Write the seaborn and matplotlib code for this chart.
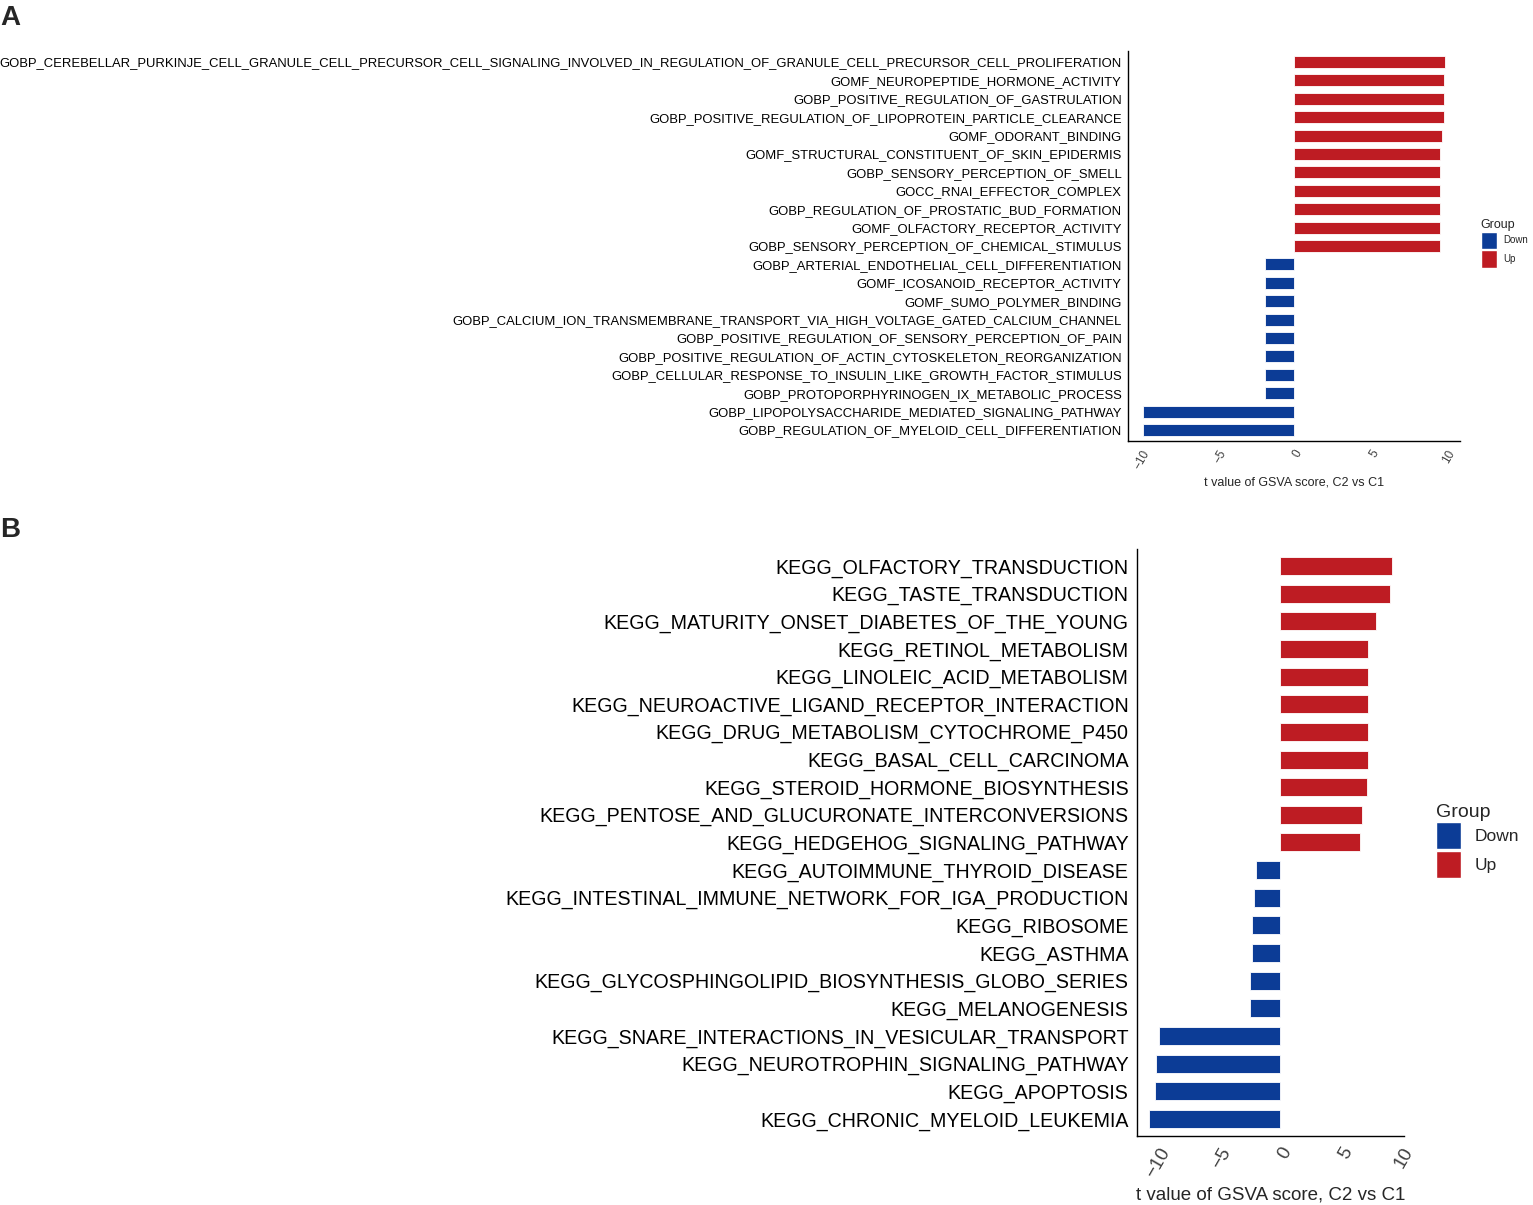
import seaborn as sns
import pandas as pd
import matplotlib.pyplot as plt
from matplotlib.patches import Patch

# panel A: GO terms (top to bottom)
go_terms = [
    'GOBP_CEREBELLAR_PURKINJE_CELL_GRANULE_CELL_PRECURSOR_CELL_SIGNALING_INVOLVED_IN_REGULATION_OF_GRANULE_CELL_PRECURSOR_CELL_PROLIFERATION',
    'GOMF_NEUROPEPTIDE_HORMONE_ACTIVITY',
    'GOBP_POSITIVE_REGULATION_OF_GASTRULATION',
    'GOBP_POSITIVE_REGULATION_OF_LIPOPROTEIN_PARTICLE_CLEARANCE',
    'GOMF_ODORANT_BINDING',
    'GOMF_STRUCTURAL_CONSTITUENT_OF_SKIN_EPIDERMIS',
    'GOBP_SENSORY_PERCEPTION_OF_SMELL',
    'GOCC_RNAI_EFFECTOR_COMPLEX',
    'GOBP_REGULATION_OF_PROSTATIC_BUD_FORMATION',
    'GOMF_OLFACTORY_RECEPTOR_ACTIVITY',
    'GOBP_SENSORY_PERCEPTION_OF_CHEMICAL_STIMULUS',
    'GOBP_ARTERIAL_ENDOTHELIAL_CELL_DIFFERENTIATION',
    'GOMF_ICOSANOID_RECEPTOR_ACTIVITY',
    'GOMF_SUMO_POLYMER_BINDING',
    'GOBP_CALCIUM_ION_TRANSMEMBRANE_TRANSPORT_VIA_HIGH_VOLTAGE_GATED_CALCIUM_CHANNEL',
    'GOBP_POSITIVE_REGULATION_OF_SENSORY_PERCEPTION_OF_PAIN',
    'GOBP_POSITIVE_REGULATION_OF_ACTIN_CYTOSKELETON_REORGANIZATION',
    'GOBP_CELLULAR_RESPONSE_TO_INSULIN_LIKE_GROWTH_FACTOR_STIMULUS',
    'GOBP_PROTOPORPHYRINOGEN_IX_METABOLIC_PROCESS',
    'GOBP_LIPOPOLYSACCHARIDE_MEDIATED_SIGNALING_PATHWAY',
    'GOBP_REGULATION_OF_MYELOID_CELL_DIFFERENTIATION',
]
go_t = [9.85, 9.80, 9.78, 9.77, 9.65, 9.55, 9.54, 9.54, 9.53, 9.52, 9.52,
        -1.93, -1.93, -1.93, -1.94, -1.94, -1.94, -1.94, -1.94, -9.91, -9.91]

# panel B: KEGG pathways (top to bottom)
kegg_terms = [
    'KEGG_OLFACTORY_TRANSDUCTION',
    'KEGG_TASTE_TRANSDUCTION',
    'KEGG_MATURITY_ONSET_DIABETES_OF_THE_YOUNG',
    'KEGG_RETINOL_METABOLISM',
    'KEGG_LINOLEIC_ACID_METABOLISM',
    'KEGG_NEUROACTIVE_LIGAND_RECEPTOR_INTERACTION',
    'KEGG_DRUG_METABOLISM_CYTOCHROME_P450',
    'KEGG_BASAL_CELL_CARCINOMA',
    'KEGG_STEROID_HORMONE_BIOSYNTHESIS',
    'KEGG_PENTOSE_AND_GLUCURONATE_INTERCONVERSIONS',
    'KEGG_HEDGEHOG_SIGNALING_PATHWAY',
    'KEGG_AUTOIMMUNE_THYROID_DISEASE',
    'KEGG_INTESTINAL_IMMUNE_NETWORK_FOR_IGA_PRODUCTION',
    'KEGG_RIBOSOME',
    'KEGG_ASTHMA',
    'KEGG_GLYCOSPHINGOLIPID_BIOSYNTHESIS_GLOBO_SERIES',
    'KEGG_MELANOGENESIS',
    'KEGG_SNARE_INTERACTIONS_IN_VESICULAR_TRANSPORT',
    'KEGG_NEUROTROPHIN_SIGNALING_PATHWAY',
    'KEGG_APOPTOSIS',
    'KEGG_CHRONIC_MYELOID_LEUKEMIA',
]
kegg_t = [9.18, 8.98, 7.86, 7.25, 7.25, 7.21, 7.20, 7.20, 7.09, 6.68, 6.57,
          -2.0, -2.2, -2.31, -2.36, -2.5, -2.5, -10.03, -10.25, -10.33, -10.8]

group_colors = {'Down': '#0C3C96', 'Up': '#BE1C23'}
group_order = ['Down', 'Up']


def make_df(terms, tvals):
    df = pd.DataFrame({'term': terms, 't': tvals})
    df['Group'] = ['Up' if v > 0 else 'Down' for v in tvals]
    return df


def draw_panel(ax, df, fs_y, fs_x, fs_lab, tick_len):
    sns.barplot(data=df, x='t', y='term', hue='Group', hue_order=group_order,
                palette=group_colors, order=list(df['term']), dodge=False,
                width=0.65, orient='h', edgecolor='white', linewidth=0.6,
                saturation=1, legend=False, ax=ax)
    n = len(df)
    ax.set_ylim(n - 0.4, -0.6)
    ax.set_xticks([-10, -5, 0, 5, 10])
    ax.set_xticklabels(['\u221210', '\u22125', '0', '5', '10'], rotation=60,
                       ha='right', va='top', rotation_mode='anchor',
                       fontsize=fs_x, color='#404040')
    ax.tick_params(axis='y', labelsize=fs_y, length=tick_len, width=0.8, pad=1.5,
                   labelcolor='black')
    ax.tick_params(axis='x', length=tick_len, width=0.8, pad=2)
    ax.set_ylabel('')
    ax.set_xlabel('t value of GSVA score, C2 vs C1', fontsize=fs_lab)
    for s in ['top', 'right']:
        ax.spines[s].set_visible(False)
    for s in ['left', 'bottom']:
        ax.spines[s].set_linewidth(1.0)
        ax.spines[s].set_color('black')


sns.set_style('white')
plt.rcParams['font.family'] = ['Liberation Sans', 'DejaVu Sans']

fig = plt.figure(figsize=(15.33, 12.05), dpi=100)

ax_a = fig.add_axes([0.7358, 0.634, 0.2166, 0.3237])
draw_panel(ax_a, make_df(go_terms, go_t), 9.35, 8.5, 9, 3)
ax_a.xaxis.labelpad = 4

ax_b = fig.add_axes([0.7417, 0.0576, 0.1742, 0.4865])
draw_panel(ax_b, make_df(kegg_terms, kegg_t), 14.1, 13.5, 13.5, 4.5)
ax_b.xaxis.labelpad = 4.5

handles = [Patch(facecolor=group_colors[g], edgecolor='white') for g in group_order]
fig.legend(handles, group_order, title='Group', loc='upper left',
           bbox_to_anchor=(1472 / 1533, 1 - 210 / 1205), frameon=False,
           fontsize=7, title_fontsize=9, handlelength=1.7, handleheight=2.4,
           handletextpad=0.6, labelspacing=0.1, alignment='left')
fig.legend(handles, group_order, title='Group', loc='upper left',
           bbox_to_anchor=(1420 / 1533, 1 - 788 / 1205), frameon=False,
           fontsize=12.5, title_fontsize=14, handlelength=1.45, handleheight=2.05,
           handletextpad=0.8, labelspacing=0.08, alignment='left')

fig.text(0.0, 1 - 5 / 1205, 'A', fontsize=20, fontweight='bold', va='top', ha='left')
fig.text(0.0, 1 - 517 / 1205, 'B', fontsize=20, fontweight='bold', va='top', ha='left')

fig.savefig('out.png', dpi=100)
